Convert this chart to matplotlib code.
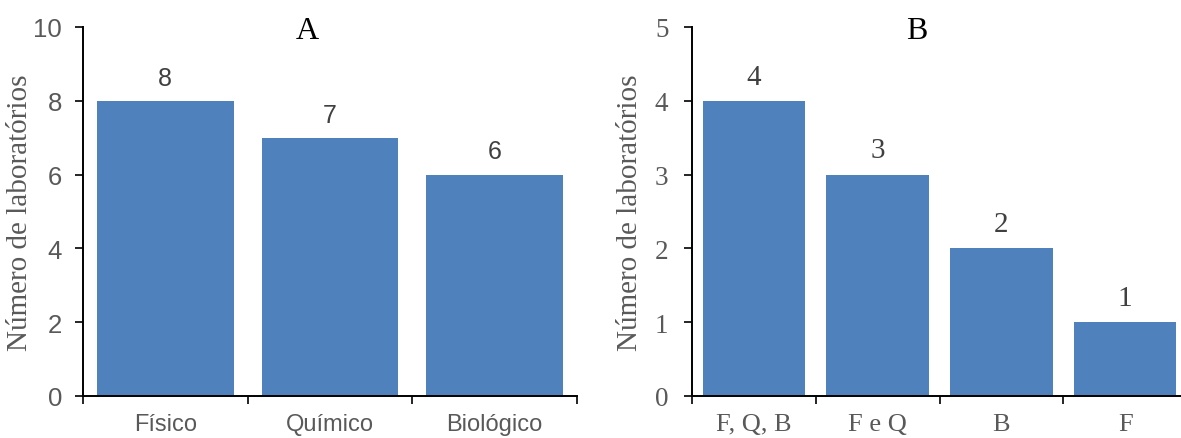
import matplotlib
matplotlib.use("Agg")
import matplotlib.pyplot as plt
import numpy as np

# Tipos de laboratório (painel A) e combinações (painel B)
tipos = ["Físico", "Químico", "Biológico"]
n_tipos = [8, 7, 6]

combinacoes = ["F, Q, B", "F e Q", "B", "F"]
n_combinacoes = [4, 3, 2, 1]

BAR_COLOR = "#4F81BD"
TICK_GRAY = "#595959"
LABEL_GRAY = "#404040"
SANS = "Liberation Sans"
SERIF = "Liberation Serif"

# font sizes per family: (y ticks, x labels, bar values)
SIZES = {SANS: (18.5, 17, 18), SERIF: (19.5, 19, 21)}


def draw_panel(ax, cats, vals, ymax, family, title, ypad):
    ytick_fs, xlab_fs, val_fs = SIZES[family]
    x = np.arange(len(cats))
    ax.bar(x, vals, width=0.83, color=BAR_COLOR, edgecolor="none")
    for xi, v in zip(x, vals):
        ax.annotate(str(v), (xi, v), xytext=(0, 8), textcoords="offset points",
                    ha="center", va="bottom", fontsize=val_fs, color=LABEL_GRAY,
                    family=family)

    ax.set_xlim(-0.5, len(cats) - 0.5)
    ax.set_ylim(0, ymax)

    # category boundaries carry the tick marks, labels sit in between
    ax.set_xticks(np.arange(len(cats) + 1) - 0.5)
    ax.set_xticklabels([])
    ax.set_xticks(x, minor=True)
    ax.set_xticklabels(cats, minor=True, fontsize=xlab_fs, color=TICK_GRAY, family=family)
    ax.tick_params(axis="x", which="major", length=6, width=1.2, direction="out")
    ax.tick_params(axis="x", which="minor", length=0, pad=12)

    ax.set_yticks(np.arange(0, ymax + 1, 2 if ymax > 5 else 1))
    ax.tick_params(axis="y", length=6, width=1.2, direction="out", pad=ypad)
    for lbl in ax.get_yticklabels():
        lbl.set_family(family)
        lbl.set_fontsize(ytick_fs)
        lbl.set_color(TICK_GRAY)

    for side in ("top", "right"):
        ax.spines[side].set_visible(False)
    for side in ("left", "bottom"):
        ax.spines[side].set_linewidth(1.4)
        ax.spines[side].set_color("black")

    ax.set_ylabel("Número de laboratórios", family=SERIF, fontsize=21,
                  color=TICK_GRAY)
    ax.text(0.454, 0.970, title, transform=ax.transAxes, ha="center",
            va="baseline", family=SERIF, fontsize=23, color="black")


fig = plt.figure(figsize=(11.81, 4.39), dpi=100)
ax_a = fig.add_axes([83 / 1181, 42 / 439, 494 / 1181, 369 / 439])
ax_b = fig.add_axes([692 / 1181, 42 / 439, 495 / 1181, 369 / 439])

draw_panel(ax_a, tipos, n_tipos, 10, SANS, "A", ypad=9)
draw_panel(ax_b, combinacoes, n_combinacoes, 5, SERIF, "B", ypad=11)

ax_a.yaxis.set_label_coords(-50 / 494, 0.5)
ax_b.yaxis.set_label_coords(-49 / 495, 0.5)

fig.savefig("out.png", dpi=100)
